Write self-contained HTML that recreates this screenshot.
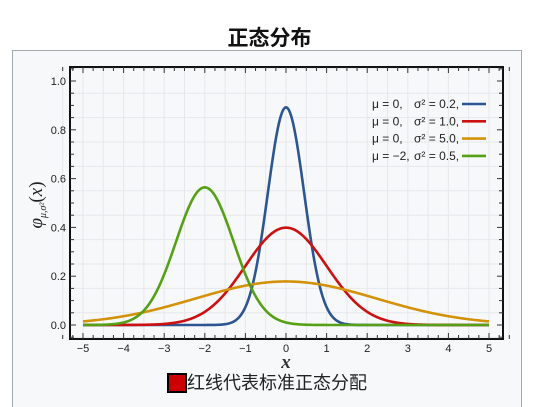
<!DOCTYPE html>
<html style="overflow:hidden;height:407px"><head><meta charset="utf-8"><style>
body{margin:0;width:539px;height:407px;background:#fff;overflow:hidden;position:relative;font-family:"Liberation Sans","Noto Sans CJK SC",sans-serif}
</style></head><body>
<div style="position:absolute;left:0;width:539px;top:22px;text-align:center;font-size:21px;font-weight:bold;color:#111">正态分布</div>
<div style="position:absolute;left:12px;top:50px;width:508px;height:357px;background:#f7f8fa;border:1px solid #a2a9b1;border-bottom:none"></div>
<svg id="c" width="539" height="407" style="position:absolute;left:0;top:0"></svg>
<div style="position:absolute;left:167px;top:373px;font-size:18px;line-height:20px;color:#222;display:flex;align-items:center">
<span style="display:inline-block;width:16px;height:16px;background:#cc0000;border:2px solid #000"></span><span>红线代表标准正态分配</span></div>
<script>
const mus=[0,0,0,-2];
const sigma2s=[0.2,1.0,5.0,0.5];
const colors=['#2c5592','#cc1111','#d4920a','#55a015'];
const legendMu=['μ = 0,','μ = 0,','μ = 0,','μ = −2,'];
const legendSig=['σ² = 0.2,','σ² = 1.0,','σ² = 5.0,','σ² = 0.5,'];
const xTicks=[-5,-4,-3,-2,-1,0,1,2,3,4,5];
const yTicks=[0,0.2,0.4,0.6,0.8,1.0];
const NS='http://www.w3.org/2000/svg';
const svg=document.getElementById('c');
const L=70,R=503,T=67,B=339;
const X=v=>286+v*40.6, Y=v=>325-v*244;
function el(t,a,p){const e=document.createElementNS(NS,t);for(const k in a)e.setAttribute(k,a[k]);(p||svg).appendChild(e);return e;}
el('rect',{x:L,y:T,width:R-L,height:B-T,fill:'#f7f8fa'});
for(let v=-5.5;v<=5.5;v+=0.5){const g=el('line',{x1:X(v),x2:X(v),y1:T,y2:B,stroke:'#e6e8eb','stroke-width':1});

}
for(let v=-0.05;v<=1.1;v+=0.1){const g=el('line',{x1:L,x2:R,y1:Y(v),y2:Y(v),stroke:'#e6e8eb'});

}
for(let i=0;i<mus.length;i++){
  const m=mus[i],s2=sigma2s[i];let d='';
  for(let k=0;k<=400;k++){const x=-5+k*10/400;const y=Math.exp(-(x-m)*(x-m)/(2*s2))/Math.sqrt(2*Math.PI*s2);d+=(k?'L':'M')+X(x).toFixed(2)+' '+Y(y).toFixed(2);}
  const p=el('path',{d:d,fill:'none',stroke:colors[i],'stroke-width':2.6});
  
  
}
el('rect',{x:L,y:T,width:R-L,height:B-T,fill:'none',stroke:'#111','stroke-width':2});
for(let v=-5.5;v<=5.51;v+=0.25){const big=Math.abs(v-Math.round(v))<0.01;const len=big?6:4;
el('line',{x1:X(v),x2:X(v),y1:B,y2:B-len,stroke:'#333'});el('line',{x1:X(v),x2:X(v),y1:T,y2:T+len,stroke:'#333'});}
for(let v=-0.05;v<=1.1;v+=0.05){const big=Math.abs(v*5-Math.round(v*5))<0.01;const len=big?6:4;
el('line',{x1:L,x2:L+len,y1:Y(v),y2:Y(v),stroke:'#333'});el('line',{x1:R,x2:R-len,y1:Y(v),y2:Y(v),stroke:'#333'});}
xTicks.forEach(v=>{const t=el('text',{x:X(v),y:352,'font-size':11,'text-anchor':'middle',fill:'#222'});t.textContent=v<0?'−'+(-v):v;

});
yTicks.forEach(v=>{const t=el('text',{x:66,y:Y(v)+4,'font-size':11,'text-anchor':'end',fill:'#222'});t.textContent=v.toFixed(1);

});
const xl=el('text',{x:286,y:368,'font-size':19,'font-style':'italic','font-weight':'bold','font-family':'Liberation Serif,serif','text-anchor':'middle',fill:'#333'});xl.textContent='x';


const yl=el('text',{transform:'translate(42,205) rotate(-90)','font-size':19,'font-family':'Liberation Serif,serif','text-anchor':'middle',fill:'#222'});
yl.innerHTML='<tspan font-style="italic">φ</tspan><tspan font-size="10" dy="4" font-style="italic">μ,σ²</tspan><tspan dy="-4">(</tspan><tspan font-style="italic">x</tspan>)';


legendMu.forEach((s,i)=>{const y=104+i*17.3;
const t=el('text',{x:372,y:y+4,'font-size':12,fill:'#222'});t.textContent=s;


const t2=el('text',{x:414,y:y+4,'font-size':12,fill:'#222'});t2.textContent=legendSig[i];


const l=el('line',{x1:462,x2:486,y1:y,y2:y,stroke:colors[i],'stroke-width':2.6});

});
</script>
</body></html>
